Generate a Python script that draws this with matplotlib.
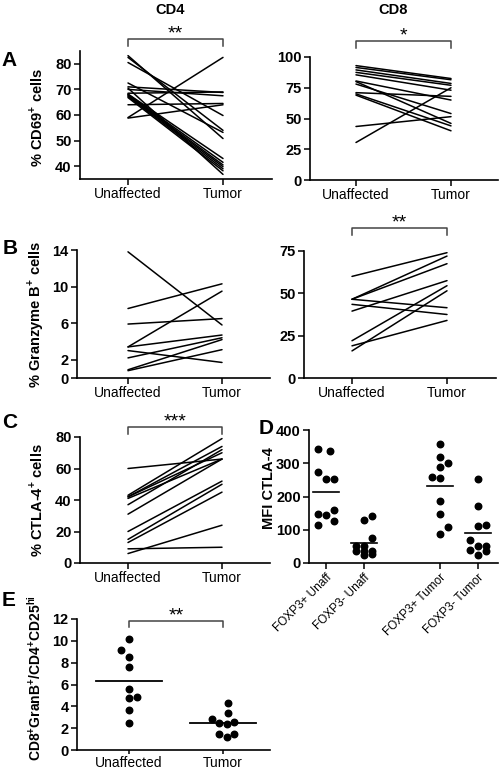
import numpy as np
import matplotlib.pyplot as plt

plt.rcParams['font.family'] = ['Liberation Sans', 'DejaVu Sans']
plt.rcParams['mathtext.fontset'] = 'custom'
plt.rcParams['mathtext.rm'] = 'Liberation Sans'
plt.rcParams['mathtext.bf'] = 'Liberation Sans:bold'

# ---- data ----
pair_labels = ['Unaffected', 'Tumor']

cd69_cd4_unaff = [83.2, 82.5, 80.5, 72.5, 71.0, 70.0, 68.5, 68.2, 68.0, 67.8, 67.5, 67.2, 66.8, 64.0, 59.0, 58.8, 70.5]
cd69_cd4_tumor = [50.8, 54.0, 59.8, 53.2, 68.8, 67.5, 69.0, 43.0, 41.5, 40.5, 39.8, 39.0, 38.2, 64.5, 82.5, 64.0, 36.8]

cd69_cd8_unaff = [93, 91.5, 89.5, 87.5, 85.5, 80.5, 80, 78, 71, 70, 69, 43.5, 30.5]
cd69_cd8_tumor = [82.5, 81.5, 78.5, 77, 73, 65, 46, 54, 68, 44, 40, 51.5, 75]

gzb_cd4_unaff = [13.8, 7.6, 5.9, 3.4, 3.4, 3.0, 2.2, 0.9, 0.8]
gzb_cd4_tumor = [5.8, 10.3, 6.5, 9.5, 4.7, 1.7, 4.4, 4.2, 3.1]

gzb_cd8_unaff = [60, 46.5, 46.5, 46.5, 43.5, 39.5, 22, 19, 16]
gzb_cd8_tumor = [74, 72, 67.5, 41.5, 37.5, 57.5, 54.5, 34, 51.5]

ctla4_unaff = [60, 43, 42, 42, 41, 37, 31, 20, 15, 13, 9, 6]
ctla4_tumor = [66, 79, 74, 70, 66, 72, 66, 52, 50, 45, 10, 24]

mfi_groups = ['FOXP3+ Unaff', 'FOXP3- Unaff', 'FOXP3+ Tumor', 'FOXP3- Tumor']
mfi_pos = [1, 2, 4, 5]
mfi_values = [
    [342, 337, 273, 253, 253, 148, 160, 113, 125, 143],
    [128, 140, 75, 50, 50, 35, 35, 35, 23, 28],
    [357, 320, 300, 290, 258, 255, 185, 148, 107, 87],
    [252, 170, 110, 113, 68, 50, 50, 40, 37, 25],
]
mfi_jitter = [
    [-0.2, 0.1, -0.2, 0.0, 0.2, -0.2, 0.2, -0.2, 0.2, 0.0],
    [0.0, 0.2, 0.2, 0.0, -0.2, -0.2, 0.0, 0.2, 0.0, 0.2],
    [0.0, 0.0, 0.2, 0.0, -0.2, 0.0, 0.0, 0.0, 0.2, 0.0],
    [0.0, 0.0, 0.0, 0.2, -0.2, 0.0, 0.2, -0.2, 0.2, 0.0],
]

ratio_unaff = [10.2, 9.2, 8.5, 7.6, 5.6, 4.8, 4.9, 3.7, 2.5]
ratio_unaff_jit = [0, -0.08, 0, 0, 0, 0, 0.08, 0, 0]
ratio_tumor = [4.3, 3.4, 2.8, 2.5, 2.6, 2.4, 1.5, 1.2, 1.5]
ratio_tumor_jit = [0.05, 0.05, -0.12, -0.04, 0.12, 0.04, -0.04, 0.04, 0.12]

W, H = 500, 772
fig = plt.figure(figsize=(W / 100, H / 100), dpi=100)


def make_axes(left, top, right, bottom, x0px, x1px, p0, p1, ylim, yticks):
    ax = fig.add_axes([left / W, 1 - bottom / H, (right - left) / W, (bottom - top) / H])
    scale = (x1px - x0px) / (p1 - p0)
    ax.set_xlim(p0 + (left - x0px) / scale, p0 + (right - x0px) / scale)
    ax.set_ylim(*ylim)
    ax.set_yticks(yticks)
    for s in ['top', 'right']:
        ax.spines[s].set_visible(False)
    for s in ['left', 'bottom']:
        ax.spines[s].set_linewidth(1.2)
    ax.tick_params(direction='out', length=4, width=1.1, pad=2)
    for lab in ax.get_yticklabels():
        lab.set_fontweight('bold')
        lab.set_fontsize(10.5)
    return ax


def pairs(ax, unaff, tumor):
    for u, t in zip(unaff, tumor):
        ax.plot([0, 1], [u, t], color='black', lw=1.1, solid_capstyle='round')
    ax.set_xticks([0, 1])
    ax.set_xticklabels(pair_labels, fontsize=10)


def to_data_y(ax, ypx):
    return ax.transData.inverted().transform((0, H - ypx))[1]


def bracket(ax, x0, x1, ypx, drop, stars):
    y = to_data_y(ax, ypx)
    yd = to_data_y(ax, ypx + drop)
    ax.plot([x0, x0, x1, x1], [yd, y, y, yd], color='#444444', lw=1.1, clip_on=False)
    ax.text((x0 + x1) / 2, to_data_y(ax, ypx + 3), stars, ha='center', va='bottom',
            fontsize=14)


# A - CD69
axA1 = make_axes(80, 51, 272, 179, 128, 223, 0, 1, (35, 85), [40, 50, 60, 70, 80])
pairs(axA1, cd69_cd4_unaff, cd69_cd4_tumor)
bracket(axA1, 0, 1, 39, 7, '**')

axA2 = make_axes(310, 57, 498, 180, 356, 451, 0, 1, (0, 100), [0, 25, 50, 75, 100])
pairs(axA2, cd69_cd8_unaff, cd69_cd8_tumor)
bracket(axA2, 0, 1, 41, 7, '*')

# B - Granzyme B
axB1 = make_axes(77, 250, 270, 378, 128, 222, 0, 1, (0, 14), [0, 2, 6, 10, 14])
pairs(axB1, gzb_cd4_unaff, gzb_cd4_tumor)

axB2 = make_axes(304, 251, 496, 378, 352, 447, 0, 1, (0, 75), [0, 25, 50, 75])
pairs(axB2, gzb_cd8_unaff, gzb_cd8_tumor)
bracket(axB2, 0, 1, 228, 7, '**')

# C - CTLA-4
axC = make_axes(80, 437, 270, 563, 128, 222, 0, 1, (0, 80), [0, 20, 40, 60, 80])
pairs(axC, ctla4_unaff, ctla4_tumor)
bracket(axC, 0, 1, 427, 7, '***')

# D - MFI CTLA-4
axD = make_axes(309, 430, 498, 563, 326, 364, 1, 2, (0, 400), [0, 100, 200, 300, 400])
for p, vals, jit in zip(mfi_pos, mfi_values, mfi_jitter):
    ax_x = [p + j for j in jit]
    axD.scatter(ax_x, vals, s=22, color='black', zorder=3, clip_on=False)
    m = np.mean(vals)
    axD.plot([p - 0.33, p + 0.33], [m, m], color='black', lw=1.2)
axD.set_xticks(mfi_pos)
axD.set_xticklabels(mfi_groups, rotation=45, ha='right', va='top',
                    rotation_mode='anchor', fontsize=8.5)

# E - ratio
axE = make_axes(77, 619, 270, 750, 129, 223, 0, 1, (0, 12), [0, 2, 4, 6, 8, 10, 12])
for p, vals, jit in [(0, ratio_unaff, ratio_unaff_jit), (1, ratio_tumor, ratio_tumor_jit)]:
    axE.scatter([p + j for j in jit], vals, s=22, color='black', zorder=3)
    m = np.mean(vals)
    axE.plot([p - 0.35, p + 0.35], [m, m], color='black', lw=1.3, clip_on=False)
axE.set_xticks([0, 1])
axE.set_xticklabels(pair_labels, fontsize=10)
axE.tick_params(axis='x', pad=1, length=3)
bracket(axE, 0, 1, 621, 6, '**')

# titles, labels, panel letters
fig.text(170 / W, 1 - 10 / H, 'CD4', ha='center', va='center', fontsize=10.5, fontweight='bold')
fig.text(393 / W, 1 - 10 / H, 'CD8', ha='center', va='center', fontsize=10.5, fontweight='bold')

ylabels = [
    (36, 117, r'% CD69$^{\mathbf{+}}$ cells', 10.5),
    (36, 314, r'% Granzyme B$^{\mathbf{+}}$ cells', 10.5),
    (36, 500, r'% CTLA-4$^{\mathbf{+}}$ cells', 10.5),
    (269, 488, 'MFI CTLA-4', 10.5),
    (35, 678, r'CD8$^{\mathbf{+}}$GranB$^{\mathbf{+}}$/CD4$^{\mathbf{+}}$CD25$^{\mathbf{hi}}$', 10),
]
for x, y, s, fs in ylabels:
    fig.text(x / W, 1 - y / H, s, rotation=90, ha='center', va='center',
             fontsize=fs, fontweight='bold')

letters = [('A', 9, 60), ('B', 10, 248), ('C', 10, 423), ('D', 266, 428), ('E', 9, 600)]
for s, x, y in letters:
    fig.text(x / W, 1 - y / H, s, ha='center', va='center', fontsize=15, fontweight='bold')

fig.savefig('out.png', dpi=100)
